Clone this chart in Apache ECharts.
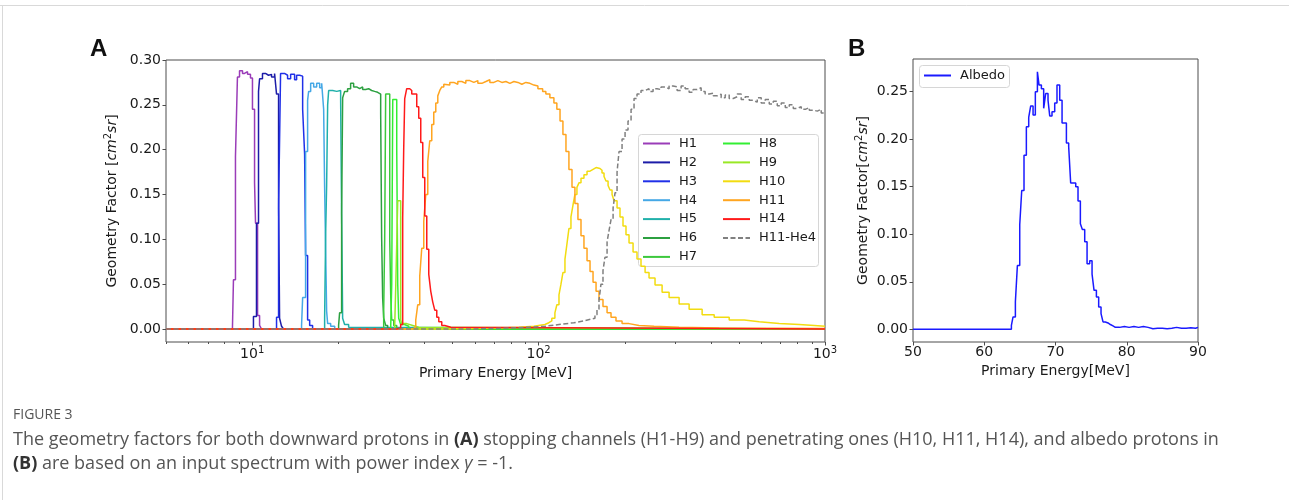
<!DOCTYPE html>
<html>
<head>
<meta charset="utf-8">
<script src="https://cdn.jsdelivr.net/npm/echarts@6/dist/echarts.min.js"></script>
<style>
html,body{margin:0;padding:0;background:#fff}
#main{width:1289px;height:500px}
</style>
</head>
<body>
<div id="main"></div>
<script>
// channel names + colours (panel A)
var channelNames = ['H1','H2','H3','H4','H5','H6','H7','H8','H9','H10','H11','H14','H11-He4'];
var channelColors = ['#9a3cb8','#1c1ca8','#2030e8','#45a8e6','#20b0aa','#2ca040','#3cc83c','#33ee33','#99e825','#f2dc10','#ffa520','#ff1a1a','#808080'];

// [energy MeV (bin left edge), geometry factor]
var h1 = [[5,0],[8.53,0.002],[8.60,0.055],[8.74,0.192],[8.88,0.281],[9.03,0.288],[9.25,0.285],[9.40,0.287],[9.63,0.284],[9.86,0.28],[10.02,0.245],[10.19,0.163],[10.27,0.118],[10.44,0.015],[10.61,0.004],[10.78,0],[1000,0]];
var h2 = [[5,0],[10.10,0.014],[10.35,0.118],[10.52,0.265],[10.61,0.279],[10.86,0.285],[11.13,0.283],[11.40,0.284],[11.68,0.281],[11.97,0.285],[12.16,0.262],[12.36,0.146],[12.46,0.012],[12.66,0.003],[12.86,0],[1000,0]];
var h3 = [[5,0],[12.16,0.013],[12.36,0.135],[12.56,0.285],[12.97,0.283],[13.29,0.279],[13.62,0.284],[14.06,0.278],[14.29,0.283],[14.64,0.282],[15.00,0.245],[15.24,0.195],[15.36,0.082],[15.61,0.01],[15.87,0.004],[16.25,0],[1000,0]];
var h4 = [[5,0],[14.87,0.004],[15.00,0.035],[15.36,0.198],[15.61,0.255],[15.74,0.265],[16.00,0.274],[16.39,0.27],[16.79,0.274],[17.20,0.269],[17.48,0.274],[17.76,0.245],[17.90,0.158],[18.05,0.086],[18.19,0.02],[18.34,0.006],[18.79,0.003],[19.41,0],[1000,0]];
var h5 = [[5,0],[17.90,0.012],[18.05,0.107],[18.19,0.16],[18.34,0.25],[18.49,0.266],[19.10,0.265],[19.72,0.266],[20.36,0.255],[20.52,0.128],[20.69,0.012],[21.02,0.005],[21.71,0.002],[22.06,0],[1000,0]];
var h6 = [[5,0],[20.03,0.004],[20.19,0.018],[20.52,0.128],[20.69,0.258],[21.02,0.265],[21.53,0.268],[22.06,0.274],[22.60,0.27],[23.15,0.268],[23.72,0.27],[24.30,0.267],[24.89,0.268],[25.50,0.266],[26.12,0.265],[26.76,0.264],[27.42,0.262],[28.09,0.24],[28.31,0.102],[28.54,0.035],[28.78,0.012],[29.24,0.004],[29.72,0],[1000,0]];
var h7 = [[5,0],[28.78,0.02],[29.01,0.10],[29.24,0.262],[30.21,0.10],[30.46,0.036],[30.70,0.01],[31.20,0.004],[31.96,0],[1000,0]];
var h8 = [[5,0],[30.46,0.004],[30.70,0.05],[30.95,0.256],[31.96,0.202],[32.22,0.05],[32.47,0.012],[32.99,0.005],[34.0,0.003],[35.2,0],[1000,0]];
var h9 = [[5,0],[31.45,0.004],[31.71,0.048],[32.22,0.143],[32.99,0.01],[33.26,0.006],[34.63,0.004],[36.35,0.002],[38.15,0],[1000,0]];
var h10 = [[5,0],[45.91,0.0005],[57.06,0.001],[72.65,0.002],[85.33,0.003],[96.29,0.005],[105.2,0.007],[108.6,0.009],[111.2,0.012],[114.0,0.018],[115.8,0.027],[117.8,0.038],[119.7,0.05],[121.6,0.063],[123.6,0.078],[125.6,0.095],[127.6,0.112],[129.7,0.125],[131.8,0.138],[133.9,0.15],[136.1,0.158],[138.3,0.163],[140.6,0.168],[144.0,0.172],[147.6,0.176],[151.2,0.178],[154.9,0.18],[158.7,0.181],[161.2,0.179],[163.8,0.177],[166.5,0.174],[169.2,0.17],[171.9,0.165],[174.8,0.16],[177.6,0.155],[180.5,0.15],[183.4,0.143],[187.9,0.135],[192.4,0.125],[197.1,0.115],[201.9,0.105],[206.9,0.096],[213.7,0.086],[220.6,0.078],[227.8,0.07],[235.4,0.063],[243.0,0.057],[255.0,0.049],[269.9,0.041],[285.5,0.035],[309.5,0.028],[335.4,0.022],[372.4,0.016],[410.3,0.013],[462.9,0.01],[522.3,0.008],[589.3,0.006],[692.2,0.005],[813.2,0.004],[917.5,0.003],[1000,0.003]];
var h11 = [[5,0],[36.35,0.002],[37.24,0.01],[37.84,0.027],[38.46,0.059],[39.08,0.09],[39.72,0.12],[40.36,0.15],[41.02,0.187],[41.68,0.21],[42.36,0.228],[43.05,0.242],[43.75,0.252],[44.46,0.26],[45.18,0.266],[45.91,0.27],[46.66,0.273],[47.02,0.272],[48.97,0.275],[50.56,0.273],[52.23,0.276],[53.93,0.274],[55.71,0.277],[57.52,0.275],[59.41,0.277],[61.35,0.274],[63.36,0.276],[65.44,0.278],[67.57,0.275],[69.79,0.277],[72.07,0.275],[74.43,0.276],[76.86,0.274],[79.39,0.276],[81.99,0.275],[84.66,0.273],[87.41,0.275],[90.28,0.274],[93.24,0.272],[96.29,0.271],[99.44,0.268],[103.3,0.265],[106.0,0.262],[109.5,0.258],[113.1,0.252],[115.8,0.245],[118.8,0.232],[121.6,0.217],[124.6,0.198],[127.6,0.178],[130.8,0.158],[133.9,0.14],[137.2,0.122],[140.6,0.104],[144.0,0.09],[147.6,0.076],[151.2,0.064],[154.9,0.052],[158.7,0.042],[162.5,0.033],[167.8,0.025],[173.4,0.018],[179.0,0.013],[186.3,0.009],[195.6,0.006],[206.9,0.004],[224.2,0.003],[253.0,0.002],[309.5,0.001],[427.1,0.0005],[1000,0]];
var h14 = [[5,0],[31.96,0.001],[32.99,0.005],[33.53,0.124],[33.80,0.2],[34.08,0.257],[34.63,0.268],[35.48,0.266],[36.06,0.262],[37.54,0.248],[38.15,0.235],[38.77,0.208],[39.40,0.169],[40.04,0.126],[40.69,0.089],[41.35,0.061],[42.02,0.042],[42.70,0.03],[43.39,0.021],[44.10,0.013],[44.82,0.008],[45.91,0.004],[47.02,0.002],[49.36,0],[1000,0]];
var h11He4 = [[5,0],[57.06,0.0005],[67.03,0.001],[78.75,0.002],[92.49,0.003],[105.2,0.005],[117.8,0.007],[132.8,0.009],[144.0,0.011],[152.4,0.012],[157.3,0.016],[159.9,0.022],[162.5,0.032],[165.1,0.05],[167.8,0.065],[170.5,0.08],[173.4,0.097],[176.2,0.11],[179.0,0.122],[182.0,0.135],[184.9,0.152],[187.9,0.175],[190.9,0.198],[195.6,0.212],[200.4,0.222],[205.2,0.232],[210.3,0.245],[215.4,0.257],[220.6,0.262],[227.8,0.266],[235.3,0.268],[243.0,0.265],[251.0,0.268],[259.2,0.267],[267.6,0.27],[276.4,0.268],[285.5,0.271],[294.8,0.27],[304.5,0.266],[314.5,0.271],[324.8,0.268],[335.4,0.264],[346.4,0.267],[357.7,0.269],[369.4,0.265],[381.5,0.262],[394.0,0.263],[406.9,0.26],[420.2,0.262],[434.0,0.258],[448.2,0.261],[462.9,0.257],[478.0,0.259],[493.7,0.262],[509.8,0.256],[526.5,0.259],[543.8,0.255],[561.6,0.253],[580.0,0.258],[598.8,0.252],[618.5,0.256],[638.8,0.251],[659.7,0.254],[681.3,0.249],[703.4,0.252],[726.5,0.247],[750.4,0.25],[774.9,0.246],[800.3,0.248],[826.4,0.245],[853.5,0.247],[881.4,0.244],[910.2,0.243],[940.0,0.245],[970.0,0.241],[1000,0.241]];
var channelData = [h1,h2,h3,h4,h5,h6,h7,h8,h9,h10,h11,h14,h11He4];

// panel B
var albedo = [[50,0],[63.81,0.004],[64.04,0.013],[64.37,0.029],[64.65,0.067],[64.98,0.110],[65.26,0.146],[65.58,0.183],[65.91,0.213],[66.24,0.223],[66.52,0.235],[66.85,0.2255],[67.17,0.25],[67.46,0.271],[67.69,0.257],[68.02,0.253],[68.34,0.2325],[68.62,0.248],[68.95,0.241],[69.19,0.2245],[69.51,0.229],[69.89,0.238],[70.21,0.257],[70.59,0.241],[70.92,0.217],[71.53,0.196],[71.85,0.192],[72.13,0.154],[72.84,0.15],[73.16,0.135],[73.49,0.111],[73.77,0.105],[74.10,0.092],[74.43,0.069],[74.80,0.072],[75.13,0.058],[75.41,0.041],[75.74,0.034],[76.06,0.0235],[76.39,0.0165],[76.67,0.0077],[77.00,0.0066],[77.37,0.005],[77.70,0.0035],[78.07,0.002],[78.4,0.002],[79.0,0.003],[79.67,0.002],[80.33,0.003],[81.0,0.002],[81.67,0.003],[82.33,0.002],[83.0,0.0005],[83.67,0.001],[84.33,0.001],[85.0,0.0005],[85.67,0.001],[86.33,0.002],[87.0,0.001],[87.67,0.001],[88.33,0.0015],[89.0,0.001],[89.67,0.002],[90,0.002]];

// ticks
var xMajorA = [10, 100, 1000];
var xMinorA = [5,6,7,8,9,20,30,40,50,60,70,80,90,200,300,400,500,600,700,800,900];
var yTicksA = [0, 0.05, 0.1, 0.15, 0.2, 0.25, 0.3];
var yTicksB = [0, 0.05, 0.1, 0.15, 0.2, 0.25];
var xTicksB = [50, 60, 70, 80, 90];

var FONT = 'DejaVu Sans';
var INK = '#1a1a1a';
var SPINE = '#4d4d4d';

var chart = echarts.init(document.getElementById('main'));

var series = channelData.map(function (d, i) {
  return {
    name: channelNames[i],
    type: 'line',
    step: 'end',
    xAxisIndex: 0,
    yAxisIndex: 0,
    data: d,
    symbol: 'none',
    animation: false,
    color: channelColors[i],
    lineStyle: { color: channelColors[i], width: 1.5, type: i === 12 ? [5, 2.5] : 'solid' }
  };
});
series.push({
  name: 'Albedo', type: 'line', step: 'end', xAxisIndex: 2, yAxisIndex: 1,
  data: albedo, symbol: 'none', animation: false, color: '#1a1aff',
  lineStyle: { color: '#1a1aff', width: 1.5 }
});

var supRich = { sup: { fontSize: 10, fontFamily: FONT, color: INK, padding: [0, 0, 8, 0] },
                it: { fontSize: 14, fontFamily: FONT, color: INK, fontStyle: 'italic' } };

var legendBase = {
  orient: 'vertical', itemWidth: 27, itemHeight: 14, itemGap: 5.9, padding: 0,
  itemStyle: { opacity: 0 }, selectedMode: false,
  textStyle: { fontFamily: FONT, fontSize: 13, color: INK, padding: [0, 0, 0, 4] }
};

var option = {
  animation: false,
  backgroundColor: '#fff',
  grid: [
    { left: 166, top: 60, width: 659, height: 282, show: true, borderColor: SPINE, borderWidth: 1 },
    { left: 913, top: 59, width: 285, height: 283, show: true, borderColor: SPINE, borderWidth: 1 }
  ],
  xAxis: [
    { type: 'log', logBase: 10, gridIndex: 0, min: 5, max: 1000, position: 'bottom',
      name: 'Primary Energy [MeV]', nameLocation: 'middle', nameGap: 19,
      nameTextStyle: { fontFamily: FONT, fontSize: 14, color: INK },
      axisLine: { show: false, onZero: false },
      axisTick: { show: true, length: 3.5, customValues: xMajorA, lineStyle: { color: SPINE } },
      axisLabel: { customValues: xMajorA, margin: 3, fontFamily: FONT, fontSize: 14, color: INK,
        formatter: function (v) { return '10{sup|' + Math.round(Math.log10(v)) + '}'; }, rich: supRich },
      splitLine: { show: false } },
    { type: 'log', logBase: 10, gridIndex: 0, min: 5, max: 1000, position: 'bottom', offset: 0,
      axisLine: { show: false, onZero: false }, axisLabel: { show: false }, splitLine: { show: false },
      axisTick: { show: true, length: 2, customValues: xMinorA, lineStyle: { color: SPINE } } },
    { type: 'value', gridIndex: 1, min: 50, max: 90, interval: 10, position: 'bottom',
      name: 'Primary Energy[MeV]', nameLocation: 'middle', nameGap: 19,
      nameTextStyle: { fontFamily: FONT, fontSize: 14, color: INK },
      axisLine: { show: false, onZero: false },
      axisTick: { show: true, length: 3.5, customValues: xTicksB, lineStyle: { color: SPINE } },
      axisLabel: { customValues: xTicksB, margin: 3, fontFamily: FONT, fontSize: 14, color: INK },
      splitLine: { show: false } }
  ],
  yAxis: [
    { type: 'value', gridIndex: 0, min: -0.0145, max: 0.30,
      name: 'Geometry Factor [{it|cm}{sup|2}{it|sr}]', nameLocation: 'middle', nameGap: 43,
      nameTextStyle: { fontFamily: FONT, fontSize: 14, color: INK, rich: supRich },
      axisLine: { show: false, onZero: false },
      axisTick: { show: true, length: 3.5, customValues: yTicksA, lineStyle: { color: SPINE } },
      axisLabel: { customValues: yTicksA, margin: 5, fontFamily: FONT, fontSize: 14, color: INK,
        formatter: function (v) { return v.toFixed(2); } },
      splitLine: { show: false } },
    { type: 'value', gridIndex: 1, min: -0.0134, max: 0.2844,
      name: 'Geometry Factor[{it|cm}{sup|2}{it|sr}]', nameLocation: 'middle', nameGap: 41,
      nameTextStyle: { fontFamily: FONT, fontSize: 14, color: INK, rich: supRich },
      axisLine: { show: false, onZero: false },
      axisTick: { show: true, length: 3.5, customValues: yTicksB, lineStyle: { color: SPINE } },
      axisLabel: { customValues: yTicksB, margin: 5, fontFamily: FONT, fontSize: 14, color: INK,
        formatter: function (v) { return v.toFixed(2); } },
      splitLine: { show: false } }
  ],
  legend: [
    Object.assign({}, legendBase, { data: ['H1','H2','H3','H4','H5','H6','H7'], left: 642, top: 137 }),
    Object.assign({}, legendBase, { data: ['H8','H9','H10','H11','H14','H11-He4'], left: 722, top: 137 }),
    Object.assign({}, legendBase, { data: ['Albedo'], left: 923, top: 69 })
  ],
  graphic: [
    { type: 'line', shape: { x1: 0, y1: 5.5, x2: 1289, y2: 5.5 }, style: { stroke: '#d9d9d9', lineWidth: 1 } },
    { type: 'line', shape: { x1: 2.5, y1: 5.5, x2: 2.5, y2: 500 }, style: { stroke: '#d9d9d9', lineWidth: 1 } },
    { type: 'rect', z: 3, shape: { x: 638.5, y: 134.5, width: 180, height: 132, r: 3 },
      style: { fill: 'rgba(255,255,255,0.8)', stroke: '#d6d6d6', lineWidth: 1 } },
    { type: 'rect', z: 3, shape: { x: 919.5, y: 65.5, width: 90, height: 22, r: 3 },
      style: { fill: 'rgba(255,255,255,0.8)', stroke: '#d6d6d6', lineWidth: 1 } },
    { type: 'text', left: 90, top: 37, style: { text: 'A', font: 'bold 24px "Liberation Sans"', fill: '#111' } },
    { type: 'text', left: 848, top: 37, style: { text: 'B', font: 'bold 24px "Liberation Sans"', fill: '#111' } },
    { type: 'text', left: 13, top: 408, style: { text: 'FIGURE 3', font: '14px "Open Sans"', fill: '#555' } },
    { type: 'text', left: 13, top: 431, style: {
        text: 'The geometry factors for both downward protons in {b|(A)} stopping channels (H1-H9) and penetrating ones (H10, H11, H14), and albedo protons in',
        font: '18px "Open Sans"', fill: '#555',
        rich: { b: { fontWeight: 'bold', fontSize: 18, fontFamily: 'Open Sans', fill: '#333' } } } },
    { type: 'text', left: 13, top: 455, style: {
        text: '{b|(B)} are based on an input spectrum with power index {i|γ} = -1.',
        font: '18px "Open Sans"', fill: '#555',
        rich: { b: { fontWeight: 'bold', fontSize: 18, fontFamily: 'Open Sans', fill: '#333' },
                i: { fontStyle: 'italic', fontSize: 18, fontFamily: 'Open Sans', fill: '#555' } } } }
  ],
  series: series
};

chart.setOption(option);
</script>
</body>
</html>
